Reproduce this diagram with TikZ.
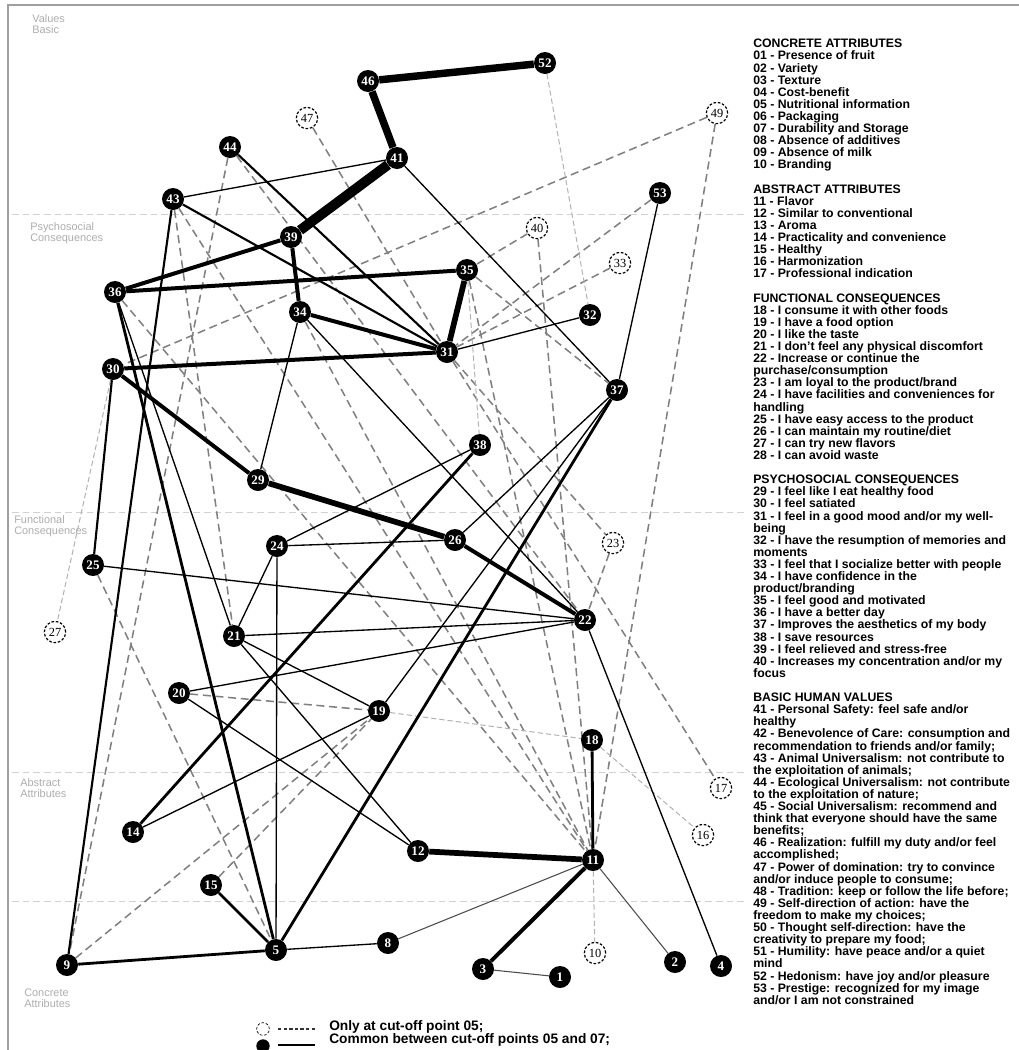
\documentclass[tikz,border=0pt]{standalone}
\usepackage{fontspec}
\setmainfont{Liberation Serif}
\setsansfont{Liberation Sans}
\usetikzlibrary{backgrounds}

\begin{document}
\begin{tikzpicture}[x=0.75pt, y=-0.75pt,
        common/.style={circle, fill=black, text=white, minimum size=16.5pt, inner sep=0pt,
                font=\fontsize{9.8}{9.8}\selectfont\bfseries},
        onlyfive/.style={circle, draw=black, fill=white, line width=0.9pt, dash pattern=on 2pt off 1.3pt,
                minimum size=16pt, inner sep=0pt, font=\fontsize{9.3}{9.3}\selectfont},
        link05/.style={gray!100, line width=1.15pt, dash pattern=on 6pt off 3.5pt},
        faint/.style={gray!60, line width=0.75pt, dash pattern=on 4pt off 2.2pt},
        w1/.style={line width=1pt}, w2/.style={line width=1.6pt}, w3/.style={line width=2.1pt},
        w4/.style={line width=3pt}, w5/.style={line width=4.3pt}, w6/.style={line width=5.6pt},
        w7/.style={line width=7.5pt},
        level/.style={black!32, anchor=west, inner sep=0pt, align=left,
                font=\sffamily\fontsize{8.2}{8.25}\selectfont},
        keytext/.style={anchor=west, inner sep=0pt, font=\sffamily\bfseries\fontsize{10.3}{10.3}\selectfont}]
        \useasboundingbox (0,0) rectangle (1019,1050);
        % Rahmen
        \draw[gray!75, line width=1pt] (8,1050) -- (8,5) -- (1019,5);
        % Ebenen
        \node[level] (lvVal) at (32,24.5) {Values\\Basic};
        \node[level] (lvPsy) at (30,233.5) {Psychosocial\\Consequences};
        \node[level] (lvFun) at (14,526.5) {Functional\\Consequences};
        \node[level] (lvAbs) at (20,788.5) {Abstract\\Attributes};
        \node[level] (lvCon) at (24,998.5) {Concrete\\Attributes};
        % Knoten (gemeinsam 05 und 07)
        \foreach \n/\px/\py in {1/560/977, 2/675/962, 3/483/969, 4/721/966, 5/276/950, 8/388/943, 9/67/965,
                11/593/860, 12/418/851, 14/133/832, 15/211/885, 18/592/740, 19/379/711, 20/179/693,
                21/234/636, 22/585/620, 24/277/546, 25/93/565, 26/455/540, 29/258/480, 30/113/369,
                31/447/352, 32/590/315, 34/300/312, 35/467/270, 36/115/292, 37/617/390, 38/480/445,
                39/291/237, 41/397/158, 43/173/199, 44/230/147, 46/368/81, 52/545/63, 53/660/193}
            \node[common] (n\n) at (\px,\py) {\n};
        % Knoten (nur 05)
        \foreach \n/\px/\py in {10/595/953, 16/703/835, 17/721/788, 23/613/543, 27/55/632,
                33/620/263, 40/537/228, 47/307/118, 49/717/113}
            \node[onlyfive] (n\n) at (\px,\py) {\n};
        \begin{pgfonlayer}{background}
            \foreach \ly in {214,512,772,901}
                \draw[black!18, line width=0.6pt, dash pattern=on 5pt off 3pt] (12,\ly) -- (745,\ly);
            % Verbindungen nur 05
            \foreach \a/\b in {49/30, 49/11, 47/31, 44/9, 44/22, 43/21, 43/11, 36/11, 34/11, 40/35,
                    40/11, 33/31, 53/31, 35/37, 35/11, 31/17, 31/23, 23/22, 20/19, 9/19, 15/19, 25/5}
                \draw[link05] (n\a) -- (n\b);
            \foreach \a/\b in {52/32, 35/38, 18/16, 19/18, 30/27, 11/10}
                \draw[faint] (n\a) -- (n\b);
            % Verbindungen gemeinsam
            \foreach \a/\b in {43/41, 41/37, 32/31, 53/37, 34/29, 34/22, 36/21, 24/26, 24/38, 24/21,
                    24/5, 21/22, 21/12, 21/19, 25/22, 20/22, 20/12, 19/14, 37/26, 37/19, 22/4, 5/8}
                \draw[w1] (n\a) -- (n\b);
            \foreach \a/\b in {8/11, 11/2, 3/1}
                \draw[black!70, line width=0.8pt] (n\a) -- (n\b);
            \foreach \a/\b in {43/9, 30/25, 44/31, 43/31}
                \draw[w2] (n\a) -- (n\b);
            \foreach \a/\b in {11/18, 9/5, 15/5, 36/5, 5/37, 14/38}
                \draw[w3] (n\a) -- (n\b);
            \foreach \a/\b in {39/36, 36/35, 34/31, 30/31, 30/29, 11/3, 26/22, 39/34}
                \draw[w4] (n\a) -- (n\b);
            \foreach \a/\b in {35/31, 12/11, 29/26}
                \draw[w5] (n\a) -- (n\b);
            \draw[w6] (n52) -- (n46) -- (n41);
            \draw[w7] (n41) -- (n39);
        \end{pgfonlayer}
        % Legende
        \node[anchor=north west, inner sep=0pt, align=left,
              font=\sffamily\bfseries\fontsize{9.2}{9.08}\selectfont] (legend) at (753,39) {%
            CONCRETE ATTRIBUTES\\
            01 - Presence of fruit\\
            02 - Variety\\
            03 - Texture\\
            04 - Cost-benefit\\
            05 - Nutritional information\\
            06 - Packaging\\
            07 - Durability and Storage\\
            08 - Absence of additives\\
            09 - Absence of milk\\
            10 - Branding\\[9.08pt]
            ABSTRACT ATTRIBUTES\\
            11 - Flavor\\
            12 - Similar to conventional\\
            13 - Aroma\\
            14 - Practicality and convenience\\
            15 - Healthy\\
            16 - Harmonization\\
            17 - Professional indication\\[9.08pt]
            FUNCTIONAL CONSEQUENCES\\
            18 - I consume it with other foods\\
            19 - I have a food option\\
            20 - I like the taste\\
            21 - I don't feel any physical discomfort\\
            22 - Increase or continue the\\
            purchase/consumption\\
            23 - I am loyal to the product/brand\\
            24 - I have facilities and conveniences for\\
            handling\\
            25 - I have easy access to the product\\
            26 - I can maintain my routine/diet\\
            27 - I can try new flavors\\
            28 - I can avoid waste\\[9.08pt]
            PSYCHOSOCIAL CONSEQUENCES\\
            29 - I feel like I eat healthy food\\
            30 - I feel satiated\\
            31 - I feel in a good mood and/or my well-\\
            being\\
            32 - I have the resumption of memories and\\
            moments\\
            33 - I feel that I socialize better with people\\
            34 - I have confidence in the\\
            product/branding\\
            35 - I feel good and motivated\\
            36 - I have a better day\\
            37 - Improves the aesthetics of my body\\
            38 - I save resources\\
            39 - I feel relieved and stress-free\\
            40 - Increases my concentration and/or my\\
            focus\\[9.08pt]
            BASIC HUMAN VALUES\\
            41 - Personal Safety: feel safe and/or\\
            healthy\\
            42 - Benevolence of Care: consumption and\\
            recommendation to friends and/or family;\\
            43 - Animal Universalism: not contribute to\\
            the exploitation of animals;\\
            44 - Ecological Universalism: not contribute\\
            to the exploitation of nature;\\
            45 - Social Universalism: recommend and\\
            think that everyone should have the same\\
            benefits;\\
            46 - Realization: fulfill my duty and/or feel\\
            accomplished;\\
            47 - Power of domination: try to convince\\
            and/or induce people to consume;\\
            48 - Tradition: keep or follow the life before;\\
            49 - Self-direction of action: have the\\
            freedom to make my choices;\\
            50 - Thought self-direction: have the\\
            creativity to prepare my food;\\
            51 - Humility: have peace and/or a quiet\\
            mind\\
            52 - Hedonism: have joy and/or pleasure\\
            53 - Prestige: recognized for my image\\
            and/or I am not constrained};
        % Schluessel unten
        \node[onlyfive, minimum size=9.5pt, line width=0.5pt] (keyA) at (263,1029) {};
        \node[common, minimum size=10pt] (keyB) at (263,1046) {};
        \coordinate (keyA1) at (278,1029); \coordinate (keyA2) at (315,1029);
        \coordinate (keyB1) at (278,1045); \coordinate (keyB2) at (315,1045);
        \draw[black!80, line width=0.9pt, dash pattern=on 2.6pt off 1.6pt] (keyA1) -- (keyA2);
        \draw[line width=1.2pt] (keyB1) -- (keyB2);
        \node[keytext] (keyAt) at (329,1027) {Only at cut-off point 05;};
        \node[keytext] (keyBt) at (329,1040) {Common between cut-off points 05 and 07;};
\end{tikzpicture}
\end{document}
